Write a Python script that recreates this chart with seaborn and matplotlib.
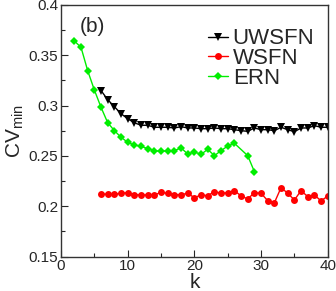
import numpy as np
import pandas as pd
import matplotlib
matplotlib.use("Agg")
import matplotlib.pyplot as plt
from matplotlib.ticker import MultipleLocator
import seaborn as sns

# values
k_uwsfn = list(range(6, 41))
cv_uwsfn = [0.315, 0.306, 0.299, 0.292, 0.287, 0.283, 0.2805, 0.2805, 0.2785, 0.2785,
            0.2785, 0.2778, 0.2791, 0.2778, 0.2778, 0.2771, 0.2771, 0.2778, 0.2771, 0.2771,
            0.2761, 0.2751, 0.2745, 0.2778, 0.2761, 0.2761, 0.2751, 0.2785, 0.2761, 0.2741,
            0.2778, 0.2778, 0.2801, 0.2785, 0.2785]

k_wsfn = list(range(6, 41))
cv_wsfn = [0.2123, 0.212, 0.212, 0.2129, 0.2136, 0.2116, 0.2113, 0.2113, 0.2113, 0.2139,
           0.2129, 0.2116, 0.2116, 0.2129, 0.2086, 0.2113, 0.2106, 0.2146, 0.2129, 0.2136,
           0.2156, 0.2103, 0.2073, 0.2136, 0.2129, 0.2056, 0.2036, 0.2186, 0.2129, 0.2063,
           0.2156, 0.2096, 0.2113, 0.2053, 0.2103]

k_ern = [2, 3, 4, 5, 6, 7, 8, 9, 10, 11, 12, 13, 14, 15, 16, 17, 18, 19, 20, 21,
         22, 23, 24, 25, 26, 28, 29]
cv_ern = [0.3642, 0.358, 0.3348, 0.3156, 0.2984, 0.2831, 0.2752, 0.2686, 0.2636, 0.2609,
          0.2596, 0.2573, 0.2553, 0.2546, 0.2553, 0.2553, 0.258, 0.252, 0.254, 0.2516,
          0.2566, 0.2503, 0.2553, 0.2599, 0.2626, 0.2503, 0.2344]

x_ticks = [0, 10, 20, 30, 40]
y_ticks = [0.15, 0.2, 0.25, 0.3, 0.35, 0.4]
y_tick_labels = ["0.15", "0.2", "0.25", "0.3", "0.35", "0.4"]

sns.set_style("ticks")
plt.rcParams['font.family'] = ['Liberation Sans', 'DejaVu Sans']
plt.rcParams['mathtext.fontset'] = 'custom'
plt.rcParams['mathtext.rm'] = 'Liberation Sans'
plt.rcParams['mathtext.it'] = 'Liberation Sans:italic'

fig = plt.figure(figsize=(3.36, 2.91), dpi=100)
ax = fig.add_axes([0.1815, 0.118, 0.794, 0.865])

sns.lineplot(x=k_uwsfn, y=cv_uwsfn, ax=ax, color="black", marker="v", markersize=5.5,
             markeredgecolor="black", markeredgewidth=0, linewidth=1, label="UWSFN")
sns.lineplot(x=k_wsfn, y=cv_wsfn, ax=ax, color="#ff0000", marker="o", markersize=5,
             markeredgecolor="#ff0000", markeredgewidth=0, linewidth=1, label="WSFN")
sns.lineplot(x=k_ern, y=cv_ern, ax=ax, color="#00ee00", marker="D", markersize=4,
             markeredgecolor="#00ee00", markeredgewidth=0, linewidth=1, label="ERN")

ax.set_xlim(0, 40)
ax.set_ylim(0.15, 0.4)
ax.set_xticks(x_ticks)
ax.set_xticklabels([str(t) for t in x_ticks])
ax.set_yticks(y_ticks)
ax.set_yticklabels(y_tick_labels)
ax.xaxis.set_minor_locator(MultipleLocator(5))
ax.yaxis.set_minor_locator(MultipleLocator(0.025))
ax.tick_params(which="both", direction="in", top=False, right=False, labelsize=11, pad=2)
ax.tick_params(which="major", length=5, width=0.8)
ax.tick_params(which="minor", length=3, width=0.8)
for s in ax.spines.values():
    s.set_linewidth(1)
    s.set_color("#333333")

ax.set_xlabel("k", fontsize=15, labelpad=0)
ax.set_ylabel(r"CV$_{\rm min}$", fontsize=15, labelpad=2)
ax.text(0.07, 0.913, "(b)", transform=ax.transAxes, fontsize=15, va="center", ha="left")

ax.legend(loc="upper right", bbox_to_anchor=(1.0, 0.96), frameon=False, fontsize=16,
          handlelength=0.9, handletextpad=0.2, labelspacing=-0.05, borderaxespad=0.2)

fig.savefig("out.png", dpi=100)
